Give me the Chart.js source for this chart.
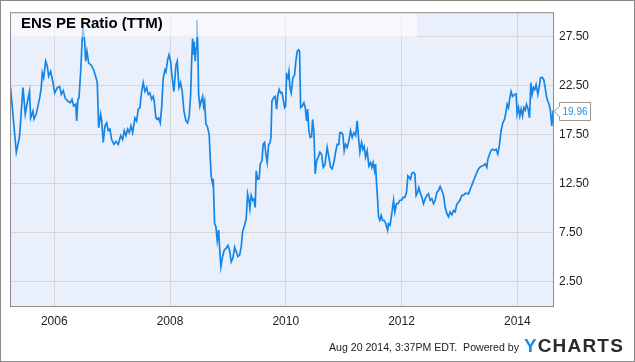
<!DOCTYPE html>
<html>
<head>
<meta charset="utf-8">
<script src="https://cdn.jsdelivr.net/npm/chart.js@4/dist/chart.umd.min.js"></script>
<style>
  body { margin: 0; background: #fff; }
  #wrap { width: 635px; height: 362px; }
</style>
</head>
<body>
<div id="wrap"><canvas id="peChart" width="635" height="362"></canvas></div>
<script>
// dates as decimal years
var years = [
  2005.244, 2005.344, 2005.400, 2005.459, 2005.499, 2005.528, 2005.572, 2005.592, 2005.632, 2005.649,
  2005.689, 2005.748, 2005.775, 2005.793, 2005.817, 2005.851, 2005.879, 2005.903, 2005.938, 2005.978,
  2006.007, 2006.052, 2006.093, 2006.121, 2006.155, 2006.190, 2006.237, 2006.276, 2006.306, 2006.335,
  2006.370, 2006.387, 2006.409, 2006.427, 2006.456, 2006.478, 2006.496, 2006.525, 2006.542, 2006.565,
  2006.594, 2006.639, 2006.680, 2006.708, 2006.743, 2006.767, 2006.801, 2006.819, 2006.846, 2006.876,
  2006.905, 2006.933, 2006.962, 2006.991, 2007.031, 2007.066, 2007.105, 2007.147, 2007.181, 2007.209,
  2007.238, 2007.268, 2007.295, 2007.325, 2007.354, 2007.394, 2007.423, 2007.451, 2007.480, 2007.509,
  2007.537, 2007.566, 2007.596, 2007.623, 2007.653, 2007.682, 2007.710, 2007.727, 2007.756, 2007.779,
  2007.803, 2007.831, 2007.855, 2007.883, 2007.912, 2007.929, 2007.959, 2007.981, 2008.010, 2008.028,
  2008.045, 2008.067, 2008.102, 2008.124, 2008.154, 2008.183, 2008.211, 2008.240, 2008.275, 2008.304,
  2008.332, 2008.356, 2008.373, 2008.390, 2008.404, 2008.418, 2008.435, 2008.451, 2008.465, 2008.482,
  2008.494, 2008.516, 2008.539, 2008.563, 2008.580, 2008.598, 2008.620, 2008.642, 2008.677, 2008.694,
  2008.712, 2008.736, 2008.746, 2008.770, 2008.793, 2008.815, 2008.839, 2008.862, 2008.879, 2008.908,
  2008.936, 2008.971, 2009.000, 2009.029, 2009.057, 2009.086, 2009.116, 2009.143, 2009.173, 2009.202,
  2009.230, 2009.254, 2009.288, 2009.316, 2009.340, 2009.363, 2009.380, 2009.402, 2009.427, 2009.449,
  2009.472, 2009.489, 2009.513, 2009.541, 2009.558, 2009.587, 2009.610, 2009.634, 2009.656, 2009.679,
  2009.703, 2009.725, 2009.743, 2009.760, 2009.789, 2009.817, 2009.841, 2009.864, 2009.886, 2009.910,
  2009.933, 2009.955, 2009.979, 2009.997, 2010.014, 2010.036, 2010.054, 2010.071, 2010.093, 2010.123,
  2010.152, 2010.174, 2010.197, 2010.221, 2010.238, 2010.256, 2010.283, 2010.313, 2010.335, 2010.359,
  2010.377, 2010.399, 2010.421, 2010.446, 2010.463, 2010.485, 2010.508, 2010.532, 2010.560, 2010.589,
  2010.618, 2010.646, 2010.675, 2010.715, 2010.744, 2010.774, 2010.801, 2010.831, 2010.860, 2010.888,
  2010.917, 2010.934, 2010.964, 2010.986, 2011.009, 2011.032, 2011.060, 2011.090, 2011.119, 2011.147,
  2011.176, 2011.206, 2011.233, 2011.257, 2011.280, 2011.309, 2011.332, 2011.354, 2011.378, 2011.406,
  2011.435, 2011.465, 2011.487, 2011.509, 2011.534, 2011.551, 2011.568, 2011.585, 2011.603, 2011.625,
  2011.648, 2011.672, 2011.699, 2011.729, 2011.758, 2011.775, 2011.803, 2011.832, 2011.862, 2011.884,
  2011.914, 2011.941, 2011.971, 2012.000, 2012.028, 2012.057, 2012.086, 2012.109, 2012.131, 2012.155,
  2012.178, 2012.207, 2012.230, 2012.252, 2012.276, 2012.299, 2012.321, 2012.351, 2012.380, 2012.408,
  2012.437, 2012.466, 2012.494, 2012.523, 2012.553, 2012.580, 2012.610, 2012.639, 2012.667, 2012.696,
  2012.725, 2012.753, 2012.782, 2012.811, 2012.839, 2012.869, 2012.898, 2012.926, 2012.955, 2012.984,
  2013.012, 2013.041, 2013.071, 2013.098, 2013.128, 2013.157, 2013.179, 2013.231, 2013.271, 2013.301,
  2013.330, 2013.358, 2013.387, 2013.416, 2013.444, 2013.473, 2013.491, 2013.520, 2013.547, 2013.577,
  2013.606, 2013.634, 2013.663, 2013.693, 2013.720, 2013.750, 2013.779, 2013.807, 2013.824, 2013.848,
  2013.870, 2013.893, 2013.917, 2013.952, 2013.979, 2013.997, 2014.021, 2014.043, 2014.066, 2014.090,
  2014.113, 2014.135, 2014.159, 2014.187, 2014.211, 2014.234, 2014.256, 2014.280, 2014.303, 2014.325,
  2014.355, 2014.377, 2014.401, 2014.429, 2014.458, 2014.481, 2014.504, 2014.527, 2014.549, 2014.573,
  2014.596, 2014.619, 2014.631
];

// PE ratio (TTM)
var peValues = [
  22.3, 15.7, 17.3, 22.3, 19.6, 20.6, 21.9, 19.2, 19.9, 19.1,
  19.6, 21.25, 22.3, 23.8, 23.3, 25.0, 24.5, 23.45, 23.95, 22.8,
  21.75, 22.3, 22.4, 21.6, 22.0, 21.2, 20.9, 20.75, 21.1, 20.4,
  20.6, 18.9, 21.1, 21.25, 23.95, 26.65, 28.5, 27.0, 25.0, 26.0,
  24.8, 24.6, 24.1, 23.6, 22.8, 18.2, 19.6, 18.9, 16.7, 18.4,
  18.7, 17.9, 18.05, 17.0, 16.5, 16.8, 16.5, 17.4, 17.0, 17.9,
  17.4, 18.05, 17.7, 18.4, 17.7, 19.2, 18.9, 20.1, 20.25, 21.9,
  22.8, 21.9, 22.3, 21.6, 21.75, 21.1, 21.4, 20.9, 19.2, 19.05,
  19.2, 18.7, 20.25, 23.3, 24.1, 23.9, 25.15, 25.65, 25.0, 23.8,
  22.95, 21.9, 24.6, 25.0, 22.3, 22.8, 21.9, 19.9, 18.9, 18.7,
  19.4, 21.6, 25.0, 27.3, 25.65, 27.0, 25.0, 26.3, 29.2, 26.0,
  21.6, 20.4, 20.9, 21.4, 20.4, 20.9, 18.55, 18.4, 17.5, 15.2,
  13.15, 12.5, 13.0, 8.4, 8.1, 6.7, 7.75, 5.4, 4.0, 5.05,
  5.7, 5.9, 6.2, 5.7, 4.5, 4.9, 6.0, 5.55, 5.05, 5.2,
  6.05, 7.6, 8.25, 8.9, 11.45, 10.8, 9.95, 11.3, 10.8, 10.9,
  10.05, 13.8, 12.95, 13.0, 14.5, 14.8, 16.5, 16.7, 15.5, 14.65,
  16.5, 16.6, 17.2, 20.9, 21.25, 21.4, 20.1, 21.6, 22.1, 21.75,
  21.8, 21.1, 20.25, 20.4, 23.6, 23.3, 23.95, 22.3, 21.75, 23.3,
  23.6, 25.0, 26.0, 26.15, 26.0, 20.25, 20.4, 20.75, 20.3, 18.9,
  20.1, 17.9, 17.2, 17.3, 19.05, 17.9, 13.5, 14.8, 15.2, 15.7,
  15.5, 14.15, 14.4, 16.2, 15.2, 14.15, 14.0, 14.65, 15.7, 16.5,
  16.5, 17.7, 17.7, 17.5, 15.85, 16.5, 16.2, 16.9, 17.9, 17.2,
  17.7, 17.4, 18.9, 17.2, 15.7, 16.7, 16.0, 16.3, 15.2, 15.85,
  14.3, 14.65, 14.15, 14.65, 13.8, 14.5, 12.5, 11.0, 9.1, 8.75,
  9.25, 8.75, 8.75, 8.4, 7.75, 8.4, 8.25, 9.45, 10.8, 9.6,
  10.45, 10.45, 10.8, 10.8, 11.1, 11.1, 11.6, 13.3, 13.15, 12.95,
  13.55, 13.65, 13.5, 11.3, 11.6, 12.1, 11.6, 11.1, 10.45, 10.95,
  11.3, 11.45, 10.8, 10.95, 10.45, 10.8, 11.6, 11.8, 12.2, 11.8,
  11.3, 10.1, 9.45, 9.1, 9.6, 9.3, 9.75, 9.6, 10.4, 10.6,
  10.85, 11.3, 11.3, 11.5, 11.5, 11.45, 11.8, 12.6, 13.2, 13.65,
  14.0, 14.2, 14.3, 14.35, 14.5, 14.15, 15.0, 15.5, 15.9, 16.0,
  15.9, 16.0, 15.5, 16.5, 17.9, 18.7, 19.05, 19.9, 20.6, 20.25,
  21.25, 21.9, 21.4, 21.6, 21.65, 19.6, 20.25, 19.4, 20.1, 19.4,
  20.25, 20.0, 20.6, 20.1, 19.2, 22.8, 21.6, 22.3, 22.1, 22.6,
  21.6, 22.3, 23.3, 23.35, 23.1, 22.3, 21.4, 20.9, 20.6, 19.9,
  18.4, 19.9, 19.96
];

var xTickYears = [2006, 2008, 2010, 2012, 2014];
var yTickValues = [2.5, 7.5, 12.5, 17.5, 22.5, 27.5];

var points = years.map(function (y, i) { return { x: y, y: peValues[i] }; });
var lastValue = peValues[peValues.length - 1];

// background, plot fill, borders
var framePlugin = {
  id: "frame",
  beforeDraw: function (chart) {
    var c = chart.ctx, a = chart.chartArea;
    c.save();
    c.fillStyle = "#ffffff";
    c.fillRect(0, 0, chart.width, chart.height);
    c.fillStyle = "#eaf0fb";
    c.fillRect(a.left, a.top, a.right - a.left, a.bottom - a.top);
    c.restore();
  },
  afterDatasetsDraw: function (chart) {
    var c = chart.ctx, a = chart.chartArea;
    c.save();
    // title band
    c.fillStyle = "rgba(255,255,255,0.55)";
    c.fillRect(a.left, a.top, 407, 25);
    c.fillStyle = "#000";
    c.font = "bold 15px 'Liberation Sans', Arial, sans-serif";
    c.textBaseline = "middle";
    c.fillText("ENS PE Ratio (TTM)", 21, 24);
    // plot border
    c.strokeStyle = "#8c8c8c";
    c.lineWidth = 1;
    c.strokeRect(a.left + 0.5, a.top + 0.5, a.right - a.left - 1, a.bottom - a.top);
    c.restore();
  },
  afterDraw: function (chart) {
    var c = chart.ctx, a = chart.chartArea;
    var yPix = Math.round(chart.scales.y.getPixelForValue(lastValue)) + 0.5;
    c.save();
    // last value flag
    c.font = "10px 'Liberation Sans', Arial, sans-serif";
    var tw = c.measureText(lastValue.toFixed(2)).width;
    var bx = a.right + 5.5, bw = tw + 6;
    c.fillStyle = "#fff";
    c.strokeStyle = "#999";
    c.lineWidth = 1;
    c.beginPath();
    c.moveTo(a.right, yPix);
    c.lineTo(bx, yPix - 5);
    c.lineTo(bx, yPix - 9);
    c.lineTo(bx + bw, yPix - 9);
    c.lineTo(bx + bw, yPix + 9);
    c.lineTo(bx, yPix + 9);
    c.lineTo(bx, yPix + 5);
    c.closePath();
    c.fill();
    c.stroke();
    c.fillStyle = "#2e8ae0";
    c.textBaseline = "middle";
    c.fillText(lastValue.toFixed(2), bx + 3, yPix + 0.5);

    // footer
    c.fillStyle = "#222";
    c.font = "11px 'Liberation Sans', Arial, sans-serif";
    var txt = "Aug 20 2014, 3:37PM EDT.  Powered by";
    var w = c.measureText(txt).width;
    c.save();
    c.translate(329, 348);
    c.scale(190 / w, 1);
    c.fillText(txt, 0, 0);
    c.restore();
    c.font = "bold 19px 'Liberation Sans', Arial, sans-serif";
    c.fillStyle = "#1a8fe3";
    c.fillText("Y", 524, 347);
    c.fillStyle = "#2b2b2b";
    var lx = 524 + c.measureText("Y").width + 1;
    "CHARTS".split("").forEach(function (ch) {
      c.fillText(ch, lx, 347);
      lx += c.measureText(ch).width + 1.2;
    });

    // outer border
    c.strokeStyle = "#8a8a8a";
    c.strokeRect(0.5, 0.5, chart.width - 1, chart.height - 1);
    c.restore();
  }
};

var ctx = document.getElementById("peChart").getContext("2d");

var peChart = new Chart(ctx, {
  type: "line",
  data: {
    datasets: [{
      label: "ENS PE Ratio (TTM)",
      data: points,
      borderColor: "#1685e6",
      borderWidth: 1.7,
      pointRadius: 0,
      tension: 0,
      fill: false
    }]
  },
  options: {
    responsive: false,
    animation: false,
    layout: { padding: { left: 10, top: 10, right: 0, bottom: 0 } },
    plugins: {
      legend: { display: false },
      tooltip: { enabled: false }
    },
    scales: {
      x: {
        type: "linear",
        position: "bottom",
        min: 2005.235,
        max: 2014.634,
        afterBuildTicks: function (scale) {
          scale.ticks = xTickYears.map(function (v) { return { value: v }; });
        },
        afterFit: function (scale) { scale.height = 56; },
        grid: { color: "#d6d6d6", drawTicks: false },
        border: { display: false },
        ticks: {
          autoSkip: false,
          maxRotation: 0,
          padding: 8,
          color: "#222",
          font: { family: "'Liberation Sans', Arial, sans-serif", size: 12 },
          callback: function (v) { return String(v); }
        }
      },
      y: {
        position: "right",
        min: 0,
        max: 30,
        afterBuildTicks: function (scale) {
          scale.ticks = yTickValues.map(function (v) { return { value: v }; });
        },
        afterFit: function (scale) { scale.width = 81; },
        grid: { color: "#d6d6d6", drawTicks: false },
        border: { display: false },
        ticks: {
          padding: 5,
          color: "#222",
          font: { family: "'Liberation Sans', Arial, sans-serif", size: 12 },
          callback: function (v) { return v.toFixed(2); }
        }
      }
    }
  },
  plugins: [framePlugin]
});
</script>
</body>
</html>
